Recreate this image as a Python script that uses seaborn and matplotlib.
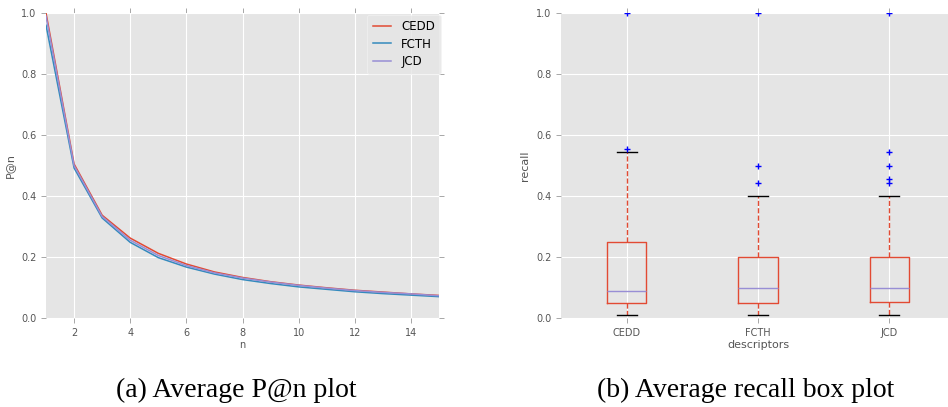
import numpy as np
import pandas as pd
import seaborn as sns
import matplotlib.pyplot as plt

# P@n curves
n = list(range(1, 16))
cedd = [1.0, 0.505, 0.337, 0.262, 0.212, 0.177, 0.151, 0.133, 0.119, 0.108, 0.099, 0.091, 0.085, 0.079, 0.074]
fcth = [0.96, 0.492, 0.328, 0.248, 0.198, 0.167, 0.144, 0.126, 0.113, 0.102, 0.094, 0.086, 0.080, 0.075, 0.070]
jcd = [0.99, 0.500, 0.333, 0.255, 0.205, 0.172, 0.148, 0.131, 0.118, 0.107, 0.098, 0.090, 0.084, 0.079, 0.073]

# recall box summaries
descriptors = ['CEDD', 'FCTH', 'JCD']
whislo = [0.01, 0.01, 0.01]
q1 = [0.05, 0.05, 0.053]
med = [0.09, 0.10, 0.10]
q3 = [0.25, 0.20, 0.20]
whishi = [0.545, 0.40, 0.40]
fliers = [[0.555, 1.0], [0.444, 0.5, 1.0], [0.444, 0.455, 0.5, 0.545, 1.0]]

plt.style.use('ggplot')
sns.set_style({'axes.facecolor': '#E5E5E5', 'grid.color': 'white'})
plt.rcParams['font.family'] = ['DejaVu Sans']

fig = plt.figure(figsize=(9.48, 4.07), dpi=100)
W, H = 948, 407
ax1 = fig.add_axes([46 / W, 1 - 318 / H, 393 / W, 305 / H])
ax2 = fig.add_axes([561 / W, 1 - 318 / H, 394 / W, 305 / H])

df = pd.DataFrame({'n': n, 'CEDD': cedd, 'FCTH': fcth, 'JCD': jcd})
colors = ['#E24A33', '#348ABD', '#988ED5']
for name, c in zip(['CEDD', 'FCTH', 'JCD'], colors):
    sns.lineplot(data=df, x='n', y=name, color=c, label=name, ax=ax1, linewidth=1.1)
ax1.set_xlim(1, 15)
ax1.set_ylim(0, 1)
ax1.set_xticks([2, 4, 6, 8, 10, 12, 14])
ax1.set_yticks([0, 0.2, 0.4, 0.6, 0.8, 1.0])
ax1.set_xlabel('n', fontsize=7, color='#555555', labelpad=2)
ax1.set_ylabel('P@n', fontsize=8, color='#555555', labelpad=4)
leg = ax1.legend(loc='upper right', bbox_to_anchor=(1.005, 0.995), borderaxespad=0,
                 fontsize=8.5, frameon=True, handlelength=1.5, handletextpad=0.9,
                 borderpad=0.5, labelspacing=0.35)
leg.get_frame().set_facecolor('#E5E5E5')
leg.get_frame().set_edgecolor('#F4F4F4')

stats = []
for i, d in enumerate(descriptors):
    stats.append({'label': d, 'whislo': whislo[i], 'q1': q1[i], 'med': med[i],
                  'q3': q3[i], 'whishi': whishi[i], 'fliers': fliers[i]})
ax2.bxp(stats, positions=[1, 2, 3], widths=0.3,
        boxprops=dict(color='#E24A33', linewidth=1.0),
        medianprops=dict(color='#988ED5', linewidth=1.0),
        whiskerprops=dict(color='#E24A33', linestyle='--', linewidth=1.0),
        capprops=dict(color='black', linewidth=1.0),
        flierprops=dict(marker='+', markeredgecolor='blue', markersize=5, linestyle='none'))
ax2.set_xlim(0.5, 3.5)
ax2.set_ylim(0, 1)
ax2.set_yticks([0, 0.2, 0.4, 0.6, 0.8, 1.0])
ax2.set_xlabel('descriptors', fontsize=8, color='#555555', labelpad=2)
ax2.set_ylabel('recall', fontsize=8, color='#555555', labelpad=4)

for ax in (ax1, ax2):
    ax.tick_params(labelsize=7, colors='#999999', labelcolor='#555555', direction='out',
                   length=3.5, width=0.6, top=True, right=True)
    ax.yaxis.set_major_formatter(plt.FormatStrFormatter('%.1f'))
    ax.grid(True, color='white', linewidth=0.8)
    for s in ax.spines.values():
        s.set_visible(False)

fig.text(236 / W, 1 - 390 / H, '(a) Average P@n plot', family='Liberation Serif',
         fontsize=20, ha='center', va='center')
fig.text(746 / W, 1 - 390 / H, '(b) Average recall box plot', family='Liberation Serif',
         fontsize=20, ha='center', va='center')

fig.savefig('out.png', dpi=100)
